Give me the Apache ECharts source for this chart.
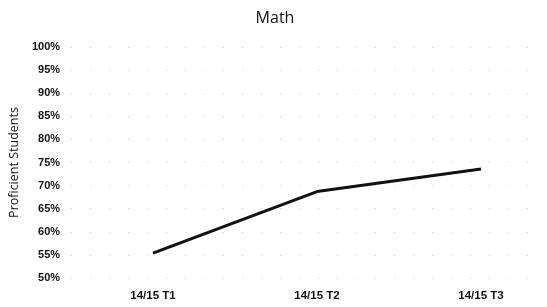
<!DOCTYPE html>
<html><head><meta charset="utf-8">
<script src="https://cdn.jsdelivr.net/npm/echarts@6/dist/echarts.min.js"></script>
<style>html,body{margin:0;padding:0;background:#fff}#c{width:547px;height:307px}</style>
</head><body><div id="c"></div>
<script>
var categories = ['14/15 T1', '14/15 T2', '14/15 T3'];
var values = [55.4, 68.7, 73.6];
var yTicks = [50, 55, 60, 65, 70, 75, 80, 85, 90, 95, 100];

var yMin = yTicks[0], yMax = yTicks[yTicks.length - 1];
var chart = echarts.init(document.getElementById('c'), null, {renderer: 'canvas'});
chart.setOption({
  animation: false,
  title: {text: 'Math', left: 270, top: 5, textAlign: 'center',
    textStyle: {fontFamily: 'Open Sans', fontWeight: 'normal', fontSize: 16, color: '#111'}},
  grid: [
    {left: 71, right: 6, top: 47, height: 231},
    {left: 153, right: 66, top: 47, height: 231}
  ],
  xAxis: [
    {gridIndex: 0, type: 'category', data: categories, show: false},
    {gridIndex: 1, type: 'category', data: categories, boundaryGap: false,
      axisLine: {show: false}, axisTick: {show: false}, splitLine: {show: false},
      axisLabel: {margin: 12, fontFamily: 'Liberation Sans', fontWeight: 'bold', fontSize: 11.5, color: '#111'}}
  ],
  yAxis: [
    {gridIndex: 0, type: 'value', min: yMin, max: yMax, interval: 5,
      name: 'Proficient Students', nameLocation: 'middle', nameGap: 50, nameRotate: 90,
      nameTextStyle: {fontFamily: 'Open Sans', fontSize: 12.5, color: '#111'},
      axisLine: {show: false}, axisTick: {show: false},
      axisLabel: {formatter: '{value}%', margin: 11, fontFamily: 'Liberation Sans', fontWeight: 'bold', fontSize: 11, color: '#111'},
      splitLine: {show: true, lineStyle: {type: [1, 18], color: '#c8c8c8', width: 1}}},
    {gridIndex: 1, type: 'value', min: yMin, max: yMax, interval: 5, show: false, splitLine: {show: false}}
  ],
  series: [{type: 'line', xAxisIndex: 1, yAxisIndex: 1, data: values, symbol: 'none',
    lineStyle: {color: '#111', width: 3}}]
});
</script></body></html>
